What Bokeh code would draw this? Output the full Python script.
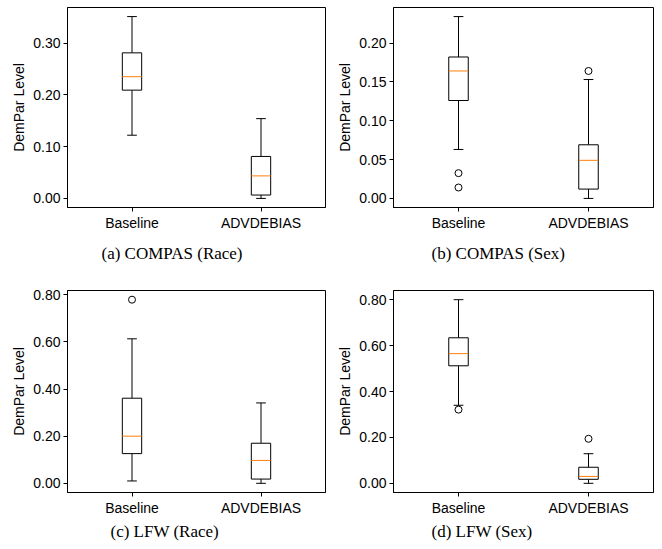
import numpy as np
from bokeh.plotting import figure
from bokeh.layouts import column, row
from bokeh.models import Range1d, FixedTicker, NumeralTickFormatter, Title
from bokeh.embed import file_html
from bokeh.resources import INLINE

# ---------------- data ----------------
methods = ["Baseline", "ADVDEBIAS"]
positions = [1, 2]
captions = ["(a) COMPAS (Race)", "(b) COMPAS (Sex)", "(c) LFW (Race)", "(d) LFW (Sex)"]
y_label = "DemPar Level"

# box statistics per panel, [Baseline, AdvDebias]
whisk_lo = [[0.122, 0.000], [0.063, 0.000], [0.010, 0.000], [0.340, 0.000]]
q1       = [[0.209, 0.0065], [0.126, 0.012], [0.126, 0.018], [0.512, 0.0175]]
median   = [[0.235, 0.0435], [0.164, 0.049], [0.200, 0.097], [0.565, 0.030]]
q3       = [[0.281, 0.081], [0.182, 0.069], [0.361, 0.170], [0.634, 0.070]]
whisk_hi = [[0.351, 0.154], [0.234, 0.153], [0.613, 0.341], [0.800, 0.129]]

# outliers per panel: (position, value)
out_pos = [[], [1, 1, 2], [1], [1, 2]]
out_val = [[], [0.0325, 0.014, 0.164], [0.779], [0.321, 0.194]]

y_ticks = [
    [0.0, 0.1, 0.2, 0.3],
    [0.0, 0.05, 0.10, 0.15, 0.20],
    [0.0, 0.2, 0.4, 0.6, 0.8],
    [0.0, 0.2, 0.4, 0.6, 0.8],
]

# ---------------- layout / style ----------------
BOX_W = 0.15
CAP_W = 0.075
# width, height, border left, right, top, bottom
geom = [
    (331, 275, 67, 6, 7, 68),
    (331, 275, 62, 9, 7, 68),
    (331, 274, 67, 6, 15, 57),
    (331, 274, 62, 9, 15, 57),
]
# caption: offset from frame left, standoff
caption_pos = [(34, 16), (38, 16), (43, 2), (38, 2)]

SANS = "Liberation Sans"
SERIF = "Liberation Serif"


def make_panel(i):
    w, h, bl, br, bt, bb = geom[i]
    lo_all = min(whisk_lo[i] + out_val[i])
    hi_all = max(whisk_hi[i] + out_val[i])
    pad = 0.05 * (hi_all - lo_all)
    p = figure(width=w, height=h, output_backend="svg", toolbar_location=None,
               x_range=Range1d(0.5, 2.5), y_range=Range1d(lo_all - pad, hi_all + pad),
               min_border_left=bl, min_border_right=br, min_border_top=bt, min_border_bottom=bb)
    p.background_fill_color = "white"
    p.border_fill_color = "white"
    p.outline_line_color = "black"
    p.outline_line_alpha = 1.0
    p.outline_line_width = 1
    p.xgrid.visible = False
    p.ygrid.visible = False

    pos = np.array(positions, dtype=float)
    # whiskers
    p.segment(x0=pos, y0=q3[i], x1=pos, y1=whisk_hi[i], line_color="black", line_width=1)
    p.segment(x0=pos, y0=q1[i], x1=pos, y1=whisk_lo[i], line_color="black", line_width=1)
    # caps
    p.segment(x0=pos - CAP_W / 2, y0=whisk_hi[i], x1=pos + CAP_W / 2, y1=whisk_hi[i],
              line_color="black", line_width=1)
    p.segment(x0=pos - CAP_W / 2, y0=whisk_lo[i], x1=pos + CAP_W / 2, y1=whisk_lo[i],
              line_color="black", line_width=1)
    # boxes
    p.vbar(x=pos, width=BOX_W, bottom=q1[i], top=q3[i], fill_color="white",
           line_color="black", line_width=1)
    # medians
    p.segment(x0=pos - BOX_W / 2, y0=median[i], x1=pos + BOX_W / 2, y1=median[i],
              line_color="#ff7f0e", line_width=1)
    # outliers
    if out_val[i]:
        p.scatter(x=out_pos[i], y=out_val[i], marker="circle", size=7,
                  fill_color=None, line_color="black", line_width=1)

    # axes
    p.xaxis.ticker = FixedTicker(ticks=positions)
    p.xaxis.major_label_overrides = {positions[k]: methods[k] for k in range(2)}
    p.yaxis.ticker = FixedTicker(ticks=y_ticks[i])
    p.yaxis.formatter = NumeralTickFormatter(format="0.00")
    p.yaxis.axis_label = y_label
    for ax in (p.xaxis[0], p.yaxis[0]):
        ax.minor_tick_line_color = None
        ax.major_tick_in = 0
        ax.major_tick_out = 4
        ax.major_tick_line_color = "black"
        ax.axis_line_color = "black"
        ax.major_label_text_font = SANS
        ax.major_label_text_font_size = "14px"
        ax.major_label_text_color = "black"
        ax.axis_label_text_font = SANS
        ax.axis_label_text_font_size = "14px"
        ax.axis_label_text_font_style = "normal"
        ax.axis_label_text_color = "black"
    p.xaxis.major_label_standoff = 3
    p.yaxis.major_label_standoff = 3
    p.yaxis.axis_label_standoff = 3

    off, so = caption_pos[i]
    p.add_layout(Title(text=captions[i], align="left", offset=off, standoff=so,
                       text_font=SERIF, text_font_size="17px", text_font_style="normal",
                       text_color="black"), "below")
    return p


panels = [make_panel(i) for i in range(4)]
layout = column(row(panels[0], panels[1]), row(panels[2], panels[3]))

open("out.html", "w").write(file_html(layout, INLINE))
